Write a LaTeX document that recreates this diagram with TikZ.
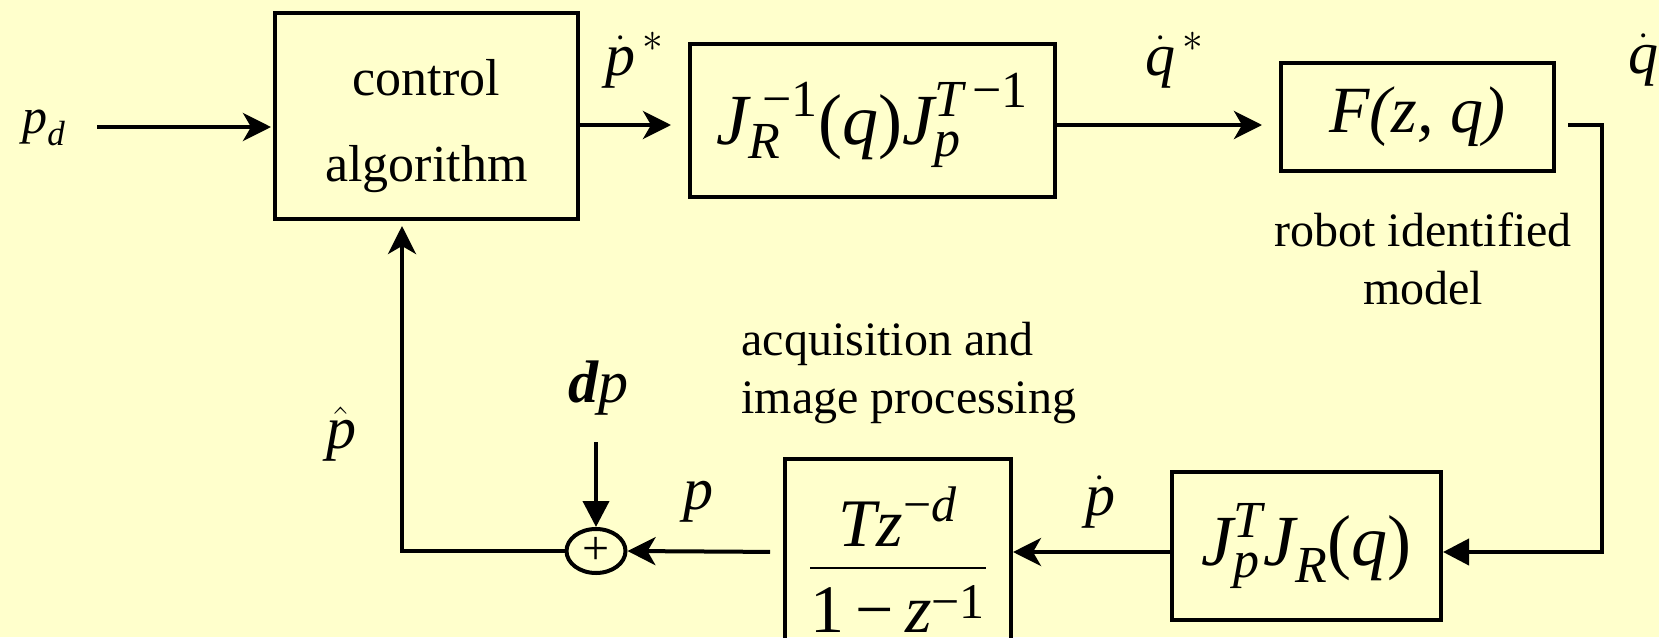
\documentclass[tikz,border=0pt]{standalone}
\usepackage{amsmath}
\usepackage{fontspec}
\setmainfont{Liberation Serif}
\usetikzlibrary{arrows.meta,calc,shapes.geometric}
\definecolor{bg}{RGB}{255,255,204}
\newcommand{\mi}[1]{\textit{#1}}
\newcommand{\tu}[1]{\textup{#1}}
\DeclareMathSizes{36}{36}{26}{19}
\DeclareMathSizes{34}{34}{25}{18}
\begin{document}
\begin{tikzpicture}[x=0.5pt,y=-0.5pt,
  box/.style={draw,line width=2pt,inner sep=0pt},
  wire/.style={line width=2pt},
  arr/.style={wire,-{Stealth[length=14pt,width=14pt,inset=4pt]}},
  tri/.style={wire,-{Triangle[length=13pt,width=13pt]}},
  lbl/.style={inner sep=0pt,font=\fontsize{24}{29}\selectfont},
  mth/.style={inner sep=0pt,font=\fontsize{30}{36}\selectfont},
]
\fill[bg] (0,0) rectangle (1659,637);
\useasboundingbox (0,0) rectangle (1659,637);

% rows
\coordinate (rowA) at (0,125);
\coordinate (rowB) at (0,552);
\coordinate (fb) at (402,0);

% blocks
\node[box,minimum width=151.5pt,minimum height=103pt] (ctrl) at (426.5,116) {};
\node[inner sep=0pt,align=center,font=\fontsize{26}{43}\selectfont] (ctrltxt) at (426.5,126) {control\\algorithm};

\node[box,minimum width=182.5pt,minimum height=76.5pt,font=\fontsize{36}{42}\selectfont] (jinv) at (872.5,120.5)
  {$\mi{J}_{\mi{R}}^{\;\tu{−1}}\tu{(}\mi{q}\tu{)}\mi{J}_{\mi{p}}^{\mi{T}\raisebox{0.25ex}{\fontsize{26}{26}\selectfont\,−1}}$};

\node[box,minimum width=136.5pt,minimum height=54pt,font=\fontsize{33}{40}\selectfont] (F) at (1417.5,117)
  {\textit{F(z, q)}};

\node[box,minimum width=134.5pt,minimum height=74pt,font=\fontsize{36}{42}\selectfont] (jp) at (1306.5,546)
  {$\mi{J}_{\mi{p}}^{\mi{T}}\mi{J}_{\mi{R}}\tu{(}\mi{q}\tu{)}$};

\node[box,minimum width=113pt,minimum height=100.5pt] (tz) at (898,559.5) {};
\node[inner sep=0pt,anchor=base,font=\fontsize{34}{40}\selectfont] (tzfrac) at (898,580)
  {$\dfrac{\;\mi{Tz}^{\tu{−}\mi{d}}\;}{\rule{0pt}{29pt}\tu{1\,−\,}\mi{z}^{\tu{−1}}}$};

\node[draw,ellipse,line width=2pt,minimum width=29.5pt,minimum height=22pt,inner sep=0pt,
  font=\fontsize{24}{24}\selectfont] (sum) at (596,551) {+};

% labels
\node[inner sep=0pt,font=\fontsize{25}{30}\selectfont] (pd) at (44,128) {$\mi{p}_{\mi{d}}$};
\node[mth] (pstar) at (635,60) {$\dot{\mi{p}}^{\,*}$};
\node[mth] (qstar) at (1175,60) {$\dot{\mi{q}}^{\,*}$};
\node[mth,anchor=west] (qdot) at (1628,60) {$\dot{\mi{q}}$};
\node[mth] (phat) at (341,434) {$\hat{\mi{p}}$};
\node[mth] (dp) at (598,388) {\textit{\textbf{d}p}};
\node[mth] (plbl) at (698,502) {\mi{p}};
\node[mth] (pdot) at (1100,502) {$\dot{\mi{p}}$};
\node[lbl,align=left,anchor=west] (acq) at (741,373) {acquisition and\\image processing};
\node[lbl,align=center] (rim) at (1423,259) {robot identified\\model};

% connectors
\coordinate (pdS) at (97,127);
\draw[arr,shorten >=1pt] (pdS) -- (pdS -| ctrl.west);
\draw[arr,shorten >=8.5pt] (ctrl.east |- rowA) -- (jinv.west |- rowA);
\draw[arr,shorten >=8.5pt] (jinv.east |- rowA) -- (F.west |- rowA);
\coordinate (rc) at (1602,125);
\draw[tri,shorten <=6pt] (F.east |- rowA) -- (rc) |- (jp.east |- rowB);
\draw[arr] (jp.west |- rowB) -- (tz.east |- rowB);
\draw[arr,shorten <=6.5pt] (tz.west |- rowB) -- (sum.east);
\draw[arr,shorten >=2.5pt] (sum.west) -| (ctrl.south -| fb);
\coordinate (dpS) at (596,442);
\draw[tri] (dpS) -- (sum.north);
\end{tikzpicture}
\end{document}
